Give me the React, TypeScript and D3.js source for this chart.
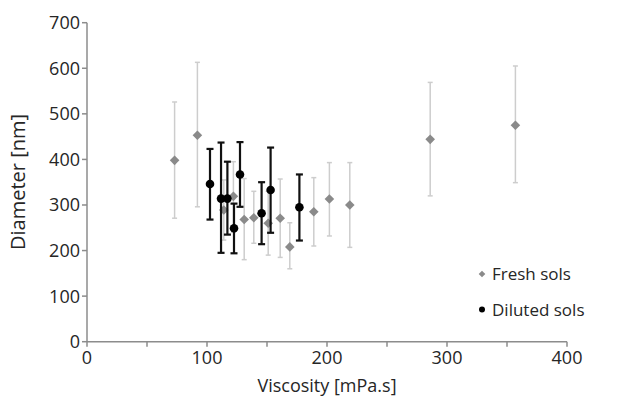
import React from "react";
import * as d3 from "d3";

// Fresh sols (grey diamonds)
const freshVisc = [73, 92, 114, 122, 131, 139, 151, 161, 169, 189, 202, 219, 286, 357];
const freshDiam = [398, 453, 289, 319, 268, 272, 260, 271, 208, 285, 313, 300, 444, 475];
const freshHigh = [526, 613, 355, 395, 358, 330, 330, 357, 261, 360, 393, 393, 569, 605];
const freshLow = [271, 296, 223, 240, 180, 216, 190, 185, 160, 210, 232, 207, 320, 349];

// Diluted sols (black circles)
const dilVisc = [102.5, 111.7, 117, 122.5, 127.5, 145.5, 153, 177];
const dilDiam = [346, 314, 314, 249, 367, 282, 333, 295];
const dilHigh = [423, 437, 395, 303, 438, 350, 426, 367];
const dilLow = [268, 195, 235, 194, 296, 214, 239, 222];

const xTicks = [0, 100, 200, 300, 400];
const xMinorTicks = [0, 50, 100, 150, 200, 250, 300, 350, 400];
const yTicks = [0, 100, 200, 300, 400, 500, 600, 700];

const W = 630;
const H = 402;
const FONT = "'Open Sans', 'Liberation Sans', sans-serif";

// square diamond (rotated square), half-diagonal r
const diamondPath = (r: number) => {
  const p = d3.path();
  p.moveTo(0, -r);
  p.lineTo(r, 0);
  p.lineTo(0, r);
  p.lineTo(-r, 0);
  p.closePath();
  return p.toString();
};

export default function App() {
  const x = d3.scaleLinear().domain([0, 400]).range([87, 567]);
  const y = d3.scaleLinear().domain([0, 700]).range([341.7, 22.7]);
  const axisColor = "#8c8c8c";
  const textColor = "#262626";

  const fresh = freshVisc.map((v, i) => ({ v, d: freshDiam[i], hi: freshHigh[i], lo: freshLow[i] }));
  const dil = dilVisc.map((v, i) => ({ v, d: dilDiam[i], hi: dilHigh[i], lo: dilLow[i] }));

  return (
    <svg
      width={W}
      height={H}
      style={{ position: "absolute", left: 0, top: 0, background: "#fff" }}
      fontFamily={FONT}
    >
      {/* axes */}
      <line x1={x(0)} x2={x(0)} y1={y(700)} y2={y(0)} stroke={axisColor} strokeWidth={1.5} />
      <line x1={x(0)} x2={x(400)} y1={y(0)} y2={y(0)} stroke={axisColor} strokeWidth={1.5} />
      {yTicks.map((t) => (
        <g key={"y" + t}>
          <line x1={x(0) - 5} x2={x(0)} y1={y(t)} y2={y(t)} stroke={axisColor} strokeWidth={1.5} />
          <text x={80} y={y(t)} dy="0.36em" textAnchor="end" fontSize={18} fill={textColor}>
            {t}
          </text>
        </g>
      ))}
      {xMinorTicks.map((t) => (
        <line key={"xm" + t} x1={x(t)} x2={x(t)} y1={y(0)} y2={y(0) + 5} stroke={axisColor} strokeWidth={1.5} />
      ))}
      {xTicks.map((t) => (
        <text key={"x" + t} x={x(t)} y={364} textAnchor="middle" fontSize={18} fill={textColor}>
          {t}
        </text>
      ))}
      <text x={327} y={392} textAnchor="middle" fontSize={18} fill={textColor}>
        Viscosity [mPa.s]
      </text>
      <text
        transform={`translate(25,182) rotate(-90)`}
        textAnchor="middle"
        fontSize={20}
        fill={textColor}
      >
        Diameter [nm]
      </text>

      {/* fresh sols error bars + markers */}
      {fresh.map((p, i) => (
        <g key={"fe" + i} stroke="#cdcdcd" strokeWidth={1.5}>
          <line x1={x(p.v)} x2={x(p.v)} y1={y(p.hi)} y2={y(p.lo)} />
          <line x1={x(p.v) - 2.5} x2={x(p.v) + 2.5} y1={y(p.hi)} y2={y(p.hi)} />
          <line x1={x(p.v) - 2.5} x2={x(p.v) + 2.5} y1={y(p.lo)} y2={y(p.lo)} />
        </g>
      ))}
      {fresh.map((p, i) => (
        <path key={"fm" + i} d={diamondPath(4.8)} transform={`translate(${x(p.v)},${y(p.d)})`} fill="#8a8a8a" />
      ))}

      {/* diluted sols error bars + markers */}
      {dil.map((p, i) => (
        <g key={"de" + i} stroke="#111" strokeWidth={2.2}>
          <line x1={x(p.v)} x2={x(p.v)} y1={y(p.hi)} y2={y(p.lo)} />
          <line x1={x(p.v) - 3.5} x2={x(p.v) + 3.5} y1={y(p.hi)} y2={y(p.hi)} />
          <line x1={x(p.v) - 3.5} x2={x(p.v) + 3.5} y1={y(p.lo)} y2={y(p.lo)} />
        </g>
      ))}
      {dil.map((p, i) => (
        <circle key={"dm" + i} cx={x(p.v)} cy={y(p.d)} r={4.3} fill="#000" />
      ))}

      {/* legend */}
      <path d={diamondPath(3.3)} transform="translate(482,274)" fill="#8a8a8a" />
      <text x={492} y={274} dy="0.36em" fontSize={17} fill={textColor}>
        Fresh sols
      </text>
      <circle cx={482} cy={309.5} r={3} fill="#000" />
      <text x={492} y={309.5} dy="0.36em" fontSize={17} fill={textColor}>
        Diluted sols
      </text>
    </svg>
  );
}
